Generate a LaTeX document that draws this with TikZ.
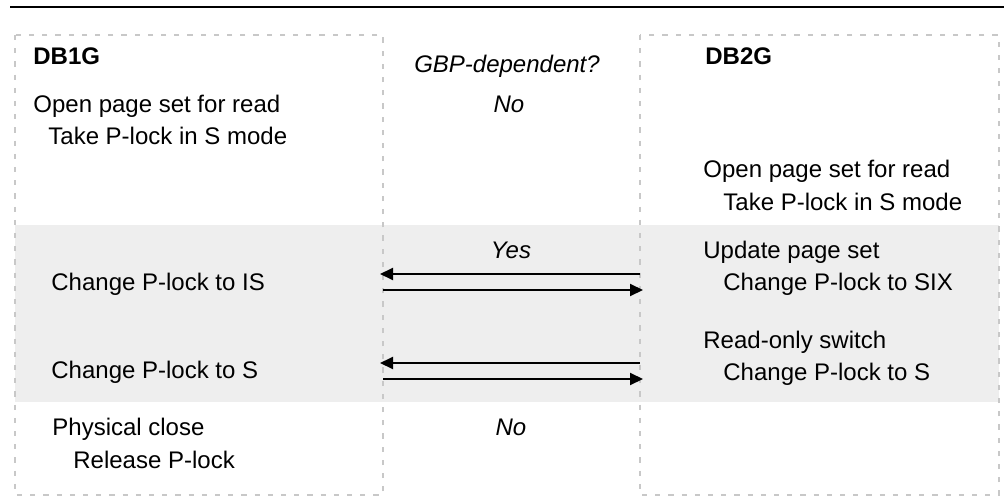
\documentclass[tikz,border=0pt]{standalone}
\usepackage{fontspec}
\setmainfont{Liberation Sans}
\usetikzlibrary{arrows.meta, positioning}
\definecolor{boxgray}{HTML}{C8C8C8}
\definecolor{bandgray}{HTML}{EEEEEE}

\tikzset{
  txt/.style={anchor=base west, inner sep=0pt},
  mid/.style={anchor=base, inner sep=0pt, font=\fontsize{12}{14}\selectfont\itshape},
  member/.style={draw=boxgray, line width=1.3pt, dash pattern=on 2.6pt off 4pt},
  msg/.style={line width=1pt, -{Triangle[length=6.5pt,width=6pt]}}
}

\begin{document}
\begin{tikzpicture}[x=0.5pt, y=-0.5pt, font=\fontsize{12}{14}\selectfont]
  \useasboundingbox (0,0) rectangle (1004,497);

  % Grey band for the GBP-dependent phase
  \fill[bandgray] (15,225) rectangle (999,402);

  % Top rule
  \draw[line width=0.8pt] (10,7) -- (1004,7);

  % Member boxes
  \draw[member] (15,35) rectangle (383,495);
  \draw[member] (640,35) rectangle (999,495);

  % DB1G
  \node[txt, font=\fontsize{12}{14}\selectfont\bfseries] (db1) at (33,65) {DB1G};
  \node[txt] (open1) at (33,113) {Open page set for read};
  \node[txt] (take1) at (48,145) {Take P-lock in S mode};
  \node[txt] (is1) at (51,290) {Change P-lock to IS};
  \node[txt] (s1) at (51,378) {Change P-lock to S};
  \node[txt] (close1) at (52,435) {Physical close};
  \node[txt] (rel1) at (73,468) {Release P-lock};

  % GBP-dependent column
  \node[mid] (gbp) at (507,73) {GBP-dependent?};
  \node[mid] (no1) at (509,113) {No};
  \node[mid] (yes) at (511,258) {Yes};
  \node[mid] (no2) at (511,435) {No};

  % DB2G
  \node[txt, font=\fontsize{12}{14}\selectfont\bfseries] (db2) at (705,65) {DB2G};
  \node[txt] (open2) at (703,177) {Open page set for read};
  \node[txt] (take2) at (723,210) {Take P-lock in S mode};
  \node[txt] (upd2) at (703,258) {Update page set};
  \node[txt] (six2) at (723,290) {Change P-lock to SIX};
  \node[txt] (ro2) at (703,348) {Read-only switch};
  \node[txt] (s2) at (723,380) {Change P-lock to S};

  % Messages between members
  \coordinate (a1r) at (640,274);
  \coordinate (a1l) at (380,274);
  \coordinate (b1l) at (383,290);
  \coordinate (b1r) at (643,290);
  \coordinate (a2r) at (640,363);
  \coordinate (a2l) at (380,363);
  \coordinate (b2l) at (383,379);
  \coordinate (b2r) at (643,379);
  \draw[msg] (a1r) -- (a1l);
  \draw[msg] (b1l) -- (b1r);
  \draw[msg] (a2r) -- (a2l);
  \draw[msg] (b2l) -- (b2r);
\end{tikzpicture}
\end{document}
